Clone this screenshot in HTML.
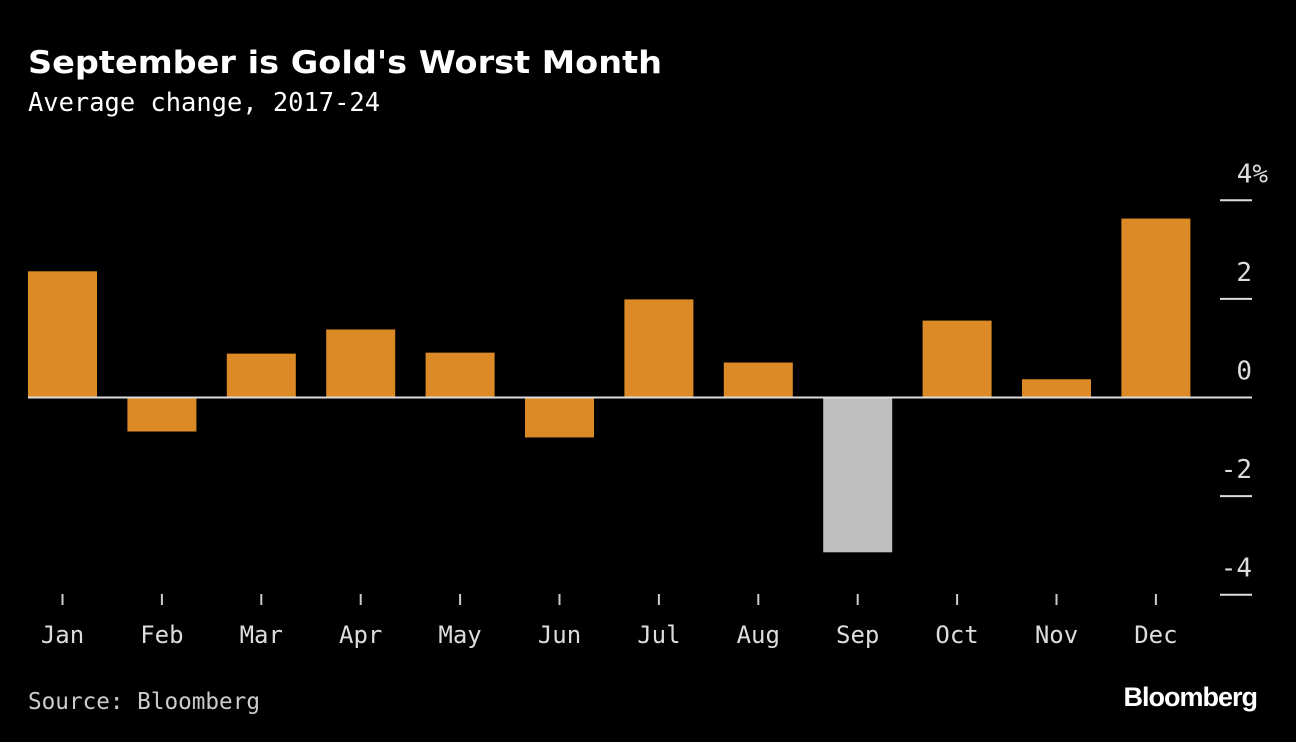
<!DOCTYPE html>
<html><head><meta charset="utf-8"><style>
body{margin:0;background:#000;width:1296px;height:742px;overflow:hidden;font-family:"Liberation Sans",sans-serif;}
svg{position:absolute;left:0;top:0}
</style></head><body>
<svg width="1296" height="742">
<text x="28" y="73" fill="#fff" font-size="31" font-weight="bold" font-family="DejaVu Sans, sans-serif" textLength="634" lengthAdjust="spacingAndGlyphs">September is Gold's Worst Month</text>
<text x="28" y="111" fill="#fff" font-size="25.5" font-family="DejaVu Sans Mono, Liberation Mono, monospace" textLength="352" lengthAdjust="spacingAndGlyphs">Average change, 2017-24</text>
<g id="plot"></g>
<text x="28" y="709" fill="#ccc" font-size="23" font-family="DejaVu Sans Mono, Liberation Mono, monospace" textLength="232" lengthAdjust="spacingAndGlyphs">Source: Bloomberg</text>
<text x="1257" y="706" fill="#fff" font-size="27" font-weight="bold" text-anchor="end" letter-spacing="-1">Bloomberg</text>
</svg>
<script>
const categories=["Jan","Feb","Mar","Apr","May","Jun","Jul","Aug","Sep","Oct","Nov","Dec"];
const values=[2.56,-0.69,0.89,1.38,0.91,-0.81,1.99,0.71,-3.14,1.56,0.37,3.63];
const yTicks=[4,2,0,-2,-4];
const yLabels=["4%","2","0","-2","-4"];
const NS="http://www.w3.org/2000/svg";
const g=document.getElementById("plot");
function y(v){return 397.5-v*49.3;}
function xc(i){return 62.5+i*99.4;}
function mk(t,a){const e=document.createElementNS(NS,t);for(const k in a)e.setAttribute(k,a[k]);g.appendChild(e);return e;}
const cf='"DejaVu Sans Mono","Liberation Mono",monospace';
values.forEach((v,i)=>{
 const r=mk("rect",{x:xc(i)-34.5,y:Math.min(y(v),y(0)),width:69,height:Math.abs(y(v)-y(0)),fill:categories[i]==="Sep"?"#bfbfbf":"#dc8a26"});
 
 
 const tk=mk("line",{x1:xc(i),x2:xc(i),y1:594,y2:605,stroke:"#ccc","stroke-width":2});
 
 
 const t=mk("text",{x:xc(i),y:643,fill:"#ddd","font-size":24,"text-anchor":"middle","font-family":cf});
 t.textContent=categories[i];
 
 
});
const zl=mk("line",{x1:28,x2:1252,y1:y(0),y2:y(0),stroke:"#ddd","stroke-width":2});


yTicks.forEach((v,i)=>{
 const l=mk("line",{x1:1220,x2:1252,y1:y(v),y2:y(v),stroke:"#ddd","stroke-width":2});
 
 
 const t=mk("text",{x:1252,y:y(v)-18,fill:"#ddd","font-size":26,"text-anchor":"end","font-family":cf});
 if(i===0)t.setAttribute("x",1268);
 t.textContent=yLabels[i];
 
 
});
</script>
</body></html>
